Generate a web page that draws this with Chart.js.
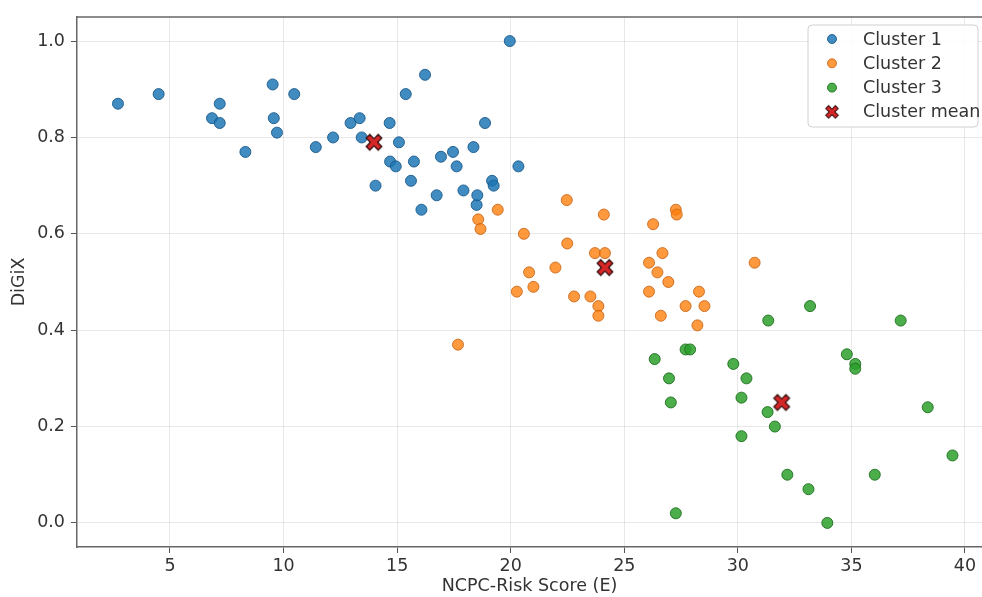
<!DOCTYPE html>
<html>
<head>
<meta charset="utf-8">
<script src="https://cdn.jsdelivr.net/npm/chart.js@4"></script>
<style>
  html, body { margin: 0; padding: 0; background: #fff; overflow: hidden; }
  #grafico { display: block; }
</style>
</head>
<body>
<canvas id="grafico" width="982" height="597"></canvas>
<script>
// DATOS
const c1X = [2.71, 4.50, 6.85, 7.19, 7.19, 8.32, 9.52, 9.57, 9.71, 10.47, 11.42, 12.18, 12.95, 13.35, 13.44, 14.05, 14.67, 14.69, 14.94, 15.08, 15.38, 15.61, 15.74, 16.07, 16.23, 16.74, 16.93, 17.46, 17.62, 17.92, 18.36, 18.50, 18.53, 18.87, 19.18, 19.25, 19.96, 20.34];
const c1Y = [0.87, 0.89, 0.84, 0.83, 0.87, 0.77, 0.91, 0.84, 0.81, 0.89, 0.78, 0.80, 0.83, 0.84, 0.80, 0.70, 0.83, 0.75, 0.74, 0.79, 0.89, 0.71, 0.75, 0.65, 0.93, 0.68, 0.76, 0.77, 0.74, 0.69, 0.78, 0.66, 0.68, 0.83, 0.71, 0.70, 1.00, 0.74];

const c2X = [17.68, 18.57, 18.67, 19.43, 20.27, 20.58, 20.81, 21.00, 21.97, 22.47, 22.49, 22.79, 23.51, 23.71, 23.86, 23.86, 24.10, 24.15, 26.09, 26.09, 26.27, 26.46, 26.61, 26.68, 26.94, 27.27, 27.31, 27.70, 28.22, 28.29, 28.53, 30.74];
const c2Y = [0.37, 0.63, 0.61, 0.65, 0.48, 0.60, 0.52, 0.49, 0.53, 0.67, 0.58, 0.47, 0.47, 0.56, 0.45, 0.43, 0.64, 0.56, 0.54, 0.48, 0.62, 0.52, 0.43, 0.56, 0.50, 0.65, 0.64, 0.45, 0.41, 0.48, 0.45, 0.54];

const c3X = [26.34, 26.97, 27.05, 27.27, 27.70, 27.90, 29.80, 30.16, 30.16, 30.38, 31.31, 31.34, 31.63, 32.18, 33.11, 33.18, 33.94, 34.80, 35.17, 35.17, 36.03, 37.17, 38.36, 39.45];
const c3Y = [0.34, 0.30, 0.25, 0.02, 0.36, 0.36, 0.33, 0.26, 0.18, 0.30, 0.23, 0.42, 0.20, 0.10, 0.07, 0.45, 0.00, 0.35, 0.33, 0.32, 0.10, 0.42, 0.24, 0.14];

const mediaX = [13.98, 24.15, 31.93];
const mediaY = [0.79, 0.53, 0.25];

const ticksX = [5, 10, 15, 20, 25, 30, 35, 40];
const ticksY = [0.0, 0.2, 0.4, 0.6, 0.8, 1.0];

const etiquetas = ["Cluster 1", "Cluster 2", "Cluster 3", "Cluster mean"];

// juntar x/y
function puntos(xs, ys) {
  return xs.map((x, i) => ({ x: x, y: ys[i] }));
}

// marcador X relleno (como matplotlib "X")
function crearX(tam) {
  const c = document.createElement("canvas");
  c.width = tam; c.height = tam;
  const ctx = c.getContext("2d");
  const r = tam / 2 - 1.5;
  const t = 0.3;
  ctx.translate(tam / 2, tam / 2);
  ctx.rotate(Math.PI / 4);
  ctx.beginPath();
  const p = [[t,1],[t,t],[1,t],[1,-t],[t,-t],[t,-1],[-t,-1],[-t,-t],[-1,-t],[-1,t],[-t,t],[-t,1]];
  p.forEach((q, i) => {
    const px = q[0] * r, py = q[1] * r;
    if (i === 0) ctx.moveTo(px, py); else ctx.lineTo(px, py);
  });
  ctx.closePath();
  ctx.fillStyle = "#d62728";
  ctx.fill();
  ctx.lineWidth = 1.3;
  ctx.strokeStyle = "#3a1010";
  ctx.stroke();
  return c;
}
const marcaX = crearX(20);

const fuente = { family: "'DejaVu Sans', sans-serif", size: 17.5 };

// marco superior (el borde derecho queda fuera de la imagen)
const marco = {
  id: "marco",
  afterDraw(chart) {
    const a = chart.chartArea;
    const ctx = chart.ctx;
    ctx.save();
    ctx.strokeStyle = "#666";
    ctx.lineWidth = 1.5;
    ctx.beginPath();
    ctx.moveTo(a.left, a.top);
    ctx.lineTo(chart.width, a.top);
    ctx.stroke();
    ctx.restore();
  }
};

// leyenda dentro del grafico
const leyenda = {
  id: "leyenda",
  afterDraw(chart) {
    const ctx = chart.ctx;
    const x0 = 808, y0 = 25, w = 170, h = 102;
    ctx.save();
    ctx.beginPath();
    ctx.roundRect(x0, y0, w, h, 4);
    ctx.fillStyle = "rgba(255,255,255,0.85)";
    ctx.fill();
    ctx.strokeStyle = "#d0d0d0";
    ctx.lineWidth = 1;
    ctx.stroke();
    ctx.font = "17.5px 'DejaVu Sans', sans-serif";
    ctx.textBaseline = "middle";
    chart.data.datasets.forEach((ds, i) => {
      const y = y0 + 14 + i * 24.3;
      if (ds.pointStyle === marcaX) {
        ctx.drawImage(marcaX, 832 - 8, y - 8, 16, 16);
      } else {
        ctx.beginPath();
        ctx.arc(832, y, 4.5, 0, Math.PI * 2);
        ctx.fillStyle = ds.backgroundColor;
        ctx.fill();
        ctx.strokeStyle = ds.borderColor;
        ctx.lineWidth = 1;
        ctx.stroke();
      }
      ctx.fillStyle = "#333";
      ctx.fillText(ds.label, 863, y + 1);
    });
    ctx.restore();
  }
};

const ctx = document.getElementById("grafico").getContext("2d");
new Chart(ctx, {
  type: "scatter",
  data: {
    datasets: [
      { label: etiquetas[0], data: puntos(c1X, c1Y), backgroundColor: "rgba(31,119,180,0.85)", borderColor: "rgba(25,90,140,0.9)", borderWidth: 1, pointRadius: 5.5, order: 4 },
      { label: etiquetas[1], data: puntos(c2X, c2Y), backgroundColor: "rgba(255,127,14,0.8)", borderColor: "rgba(200,100,20,0.85)", borderWidth: 1, pointRadius: 5.5, order: 3 },
      { label: etiquetas[2], data: puntos(c3X, c3Y), backgroundColor: "rgba(44,160,44,0.85)", borderColor: "rgba(30,110,30,0.9)", borderWidth: 1, pointRadius: 5.5, order: 2 },
      { label: etiquetas[3], data: puntos(mediaX, mediaY), pointStyle: marcaX, pointRadius: 10, order: 1 }
    ]
  },
  options: {
    responsive: false,
    animation: false,
    // sin autoPadding: el eje x llega al borde derecho de la imagen
    layout: { autoPadding: false, padding: { top: 17, right: 0, left: 0, bottom: 0 } },
    plugins: {
      legend: { display: false },
      tooltip: { enabled: false }
    },
    scales: {
      x: {
        type: "linear",
        min: 0.906,
        max: 40.75,
        afterBuildTicks: s => { s.ticks = ticksX.map(v => ({ value: v })); },
        afterFit: s => { s.height = 50; },
        grid: { color: "rgba(0,0,0,0.09)", tickColor: "#555", tickLength: 6, drawTicks: true },
        border: { color: "#666", width: 1.5 },
        ticks: { font: fuente, color: "#333", padding: 3, maxRotation: 0 },
        title: { display: true, text: "NCPC-Risk Score (E)", font: fuente, color: "#333", padding: { top: 0, bottom: 0 } }
      },
      y: {
        type: "linear",
        min: -0.05,
        max: 1.05,
        afterBuildTicks: s => { s.ticks = ticksY.map(v => ({ value: v })); },
        afterFit: s => { s.width = 77; },
        grid: { color: "rgba(0,0,0,0.09)", tickColor: "#555", tickLength: 6, drawTicks: true },
        border: { color: "#666", width: 1.5 },
        ticks: { font: fuente, color: "#333", padding: 6, callback: v => v.toFixed(1) },
        title: { display: true, text: "DiGiX", font: fuente, color: "#333", padding: { top: 8.5, bottom: 0 } }
      }
    }
  },
  plugins: [marco, leyenda]
});
</script>
</body>
</html>
